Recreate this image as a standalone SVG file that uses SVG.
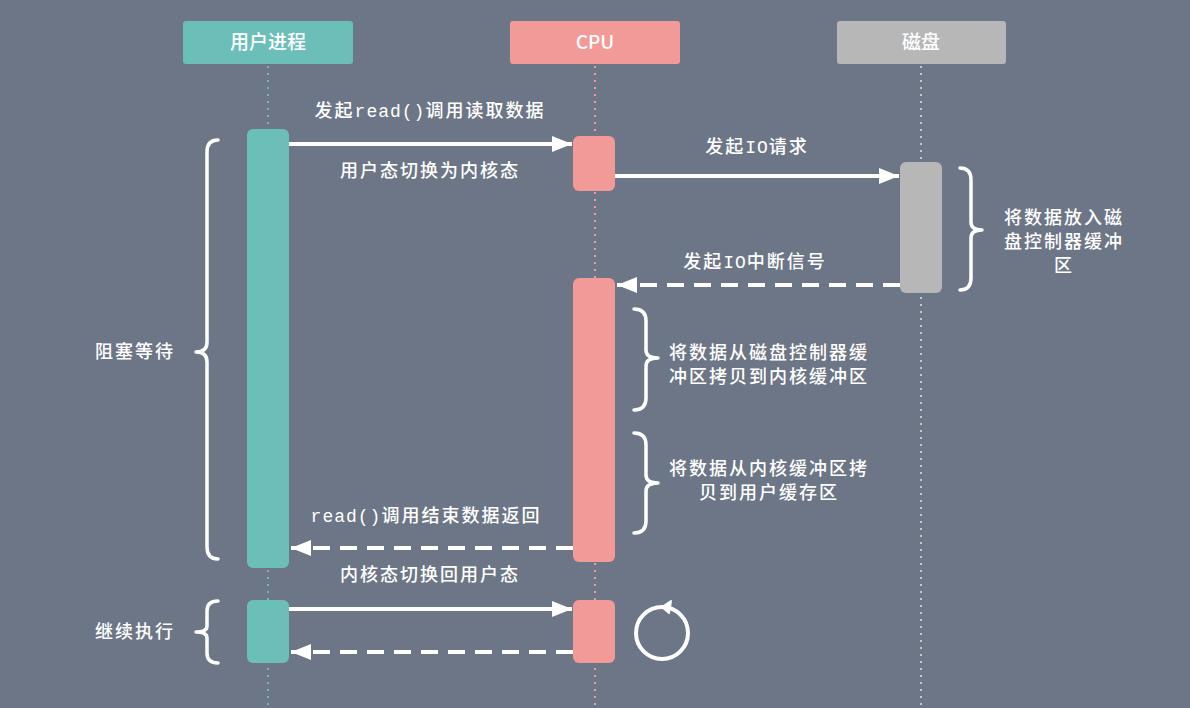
<svg xmlns="http://www.w3.org/2000/svg" width="1190" height="708" viewBox="0 0 1190 708">
<defs>
<style>
.bg{fill:#6d7686}
.hdr{font-family:"Noto Sans CJK SC","Liberation Sans",sans-serif;font-size:19px;font-weight:500;fill:#ffffff;text-anchor:middle}
.lbl{font-family:"Noto Sans CJK SC",sans-serif;font-size:18px;font-weight:500;fill:#ffffff;letter-spacing:2px}
.mid{text-anchor:middle}
.mono{font-family:"Liberation Mono","DejaVu Sans Mono",monospace;font-weight:normal;letter-spacing:1px}
.teal{fill:#6bbfb8}
.pink{fill:#f29a97}
.gray{fill:#b7b7b7}
.life{fill:none;stroke-width:2;stroke-dasharray:2 5}
.msg{fill:none;stroke:#ffffff;stroke-width:4}
.dash{stroke-dasharray:17 10}
.brace{fill:none;stroke:#ffffff;stroke-width:3.5;stroke-linecap:round;stroke-linejoin:round}
</style>
<marker id="ah" markerUnits="userSpaceOnUse" markerWidth="22" markerHeight="18" refX="20" refY="8" orient="auto">
<path d="M0,0 L20,8 L0,16 z" fill="#ffffff"/>
</marker>
</defs>
<rect class="bg" x="0" y="0" width="1190" height="708"/>

<g id="lifelines">
<line class="life" x1="268" y1="66" x2="268" y2="708" stroke="#6bbfb8"/>
<line class="life" x1="595" y1="66" x2="595" y2="708" stroke="#f29a97"/>
<line class="life" x1="921" y1="66" x2="921" y2="708" stroke="#c8c8c8"/>
</g>

<g id="node-user">
<rect class="teal" x="183" y="21" width="170" height="43" rx="3"/>
<text class="hdr" x="268" y="49">用户进程</text>
</g>
<g id="node-cpu">
<rect class="pink" x="510" y="21" width="170" height="43" rx="3"/>
<text class="hdr" x="595" y="49">CPU</text>
</g>
<g id="node-disk">
<rect class="gray" x="837" y="21" width="169" height="43" rx="3"/>
<text class="hdr" x="921" y="49">磁盘</text>
</g>

<g id="activations">
<rect class="teal" x="247" y="129" width="42" height="439" rx="6"/>
<rect class="pink" x="573" y="136" width="42" height="55" rx="6"/>
<rect class="gray" x="900" y="162" width="42" height="131" rx="6"/>
<rect class="pink" x="573" y="278" width="42" height="284" rx="6"/>
<rect class="teal" x="247" y="600" width="42" height="63" rx="6"/>
<rect class="pink" x="573" y="600" width="42" height="63" rx="6"/>
</g>

<g id="connectors">
<line class="msg" x1="289" y1="144" x2="572" y2="144" marker-end="url(#ah)"/>
<line class="msg" x1="615" y1="176" x2="899" y2="176" marker-end="url(#ah)"/>
<line class="msg dash" x1="900" y1="285" x2="617" y2="285" marker-end="url(#ah)"/>
<line class="msg dash" x1="573" y1="548" x2="291" y2="548" marker-end="url(#ah)"/>
<line class="msg" x1="289" y1="609" x2="572" y2="609" marker-end="url(#ah)"/>
<line class="msg dash" x1="573" y1="652" x2="291" y2="652" marker-end="url(#ah)"/>
</g>

<g id="labels">
<text class="lbl mid" x="430" y="117">发起<tspan class="mono">read()</tspan>调用读取数据</text>
<text class="lbl mid" x="430" y="177">用户态切换为内核态</text>
<text class="lbl mid" x="757" y="153">发起<tspan class="mono">IO</tspan>请求</text>
<text class="lbl mid" x="755" y="268">发起<tspan class="mono">IO</tspan>中断信号</text>
<text class="lbl mid" x="426" y="522"><tspan class="mono">read()</tspan>调用结束数据返回</text>
<text class="lbl mid" x="430" y="581">内核态切换回用户态</text>
</g>

<g id="brace-block">
<path class="brace" d="M218,140 Q207,140 207,152 L207,342 Q207,352 196,352 Q207,352 207,362 L207,547 Q207,559 218,559"/>
<text class="lbl" x="95" y="358">阻塞等待</text>
</g>
<g id="brace-continue">
<path class="brace" d="M218,601 Q207,601 207,611 L207,626 Q207,632 196,632 Q207,632 207,638 L207,653 Q207,663 218,663"/>
<text class="lbl" x="95" y="638">继续执行</text>
</g>
<g id="brace-disk">
<path class="brace" d="M960,168 Q971,168 971,180 L971,222 Q971,230 982,230 Q971,230 971,238 L971,278 Q971,290 960,290"/>
<text class="lbl mid" x="1064" y="224">将数据放入磁</text>
<text class="lbl mid" x="1064" y="248">盘控制器缓冲</text>
<text class="lbl mid" x="1064" y="272">区</text>
</g>
<g id="brace-copy1">
<path class="brace" d="M634,309 Q646,309 646,321 L646,350 Q646,358 658,358 Q646,358 646,366 L646,398 Q646,410 634,410"/>
<text class="lbl mid" x="769" y="359">将数据从磁盘控制器缓</text>
<text class="lbl mid" x="769" y="383">冲区拷贝到内核缓冲区</text>
</g>
<g id="brace-copy2">
<path class="brace" d="M634,433 Q646,433 646,445 L646,475 Q646,483 658,483 Q646,483 646,491 L646,521 Q646,533 634,533"/>
<text class="lbl mid" x="769" y="475">将数据从内核缓冲区拷</text>
<text class="lbl mid" x="769" y="499">贝到用户缓存区</text>
</g>

<g id="loop-icon">
<circle cx="662" cy="633" r="26" fill="none" stroke="#ffffff" stroke-width="4"/>
<path d="M671,601 L662,607 L669,613 z" fill="#ffffff" stroke="#ffffff" stroke-width="2" stroke-linejoin="round"/>
</g>
</svg>
